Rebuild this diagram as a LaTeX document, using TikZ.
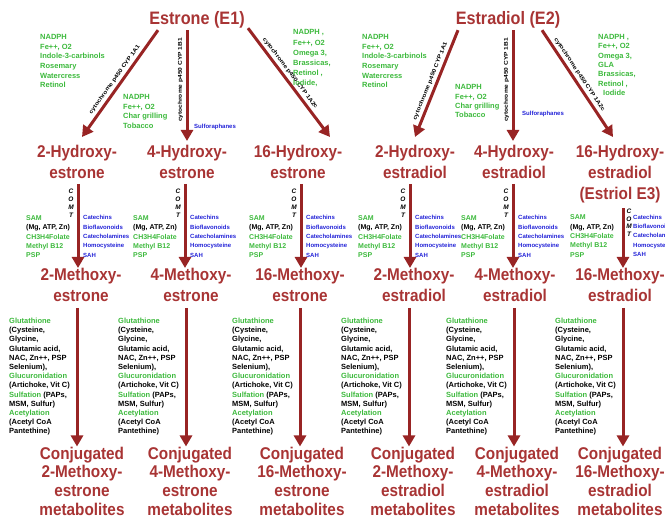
\documentclass[tikz,border=0pt]{standalone}
\usepackage{fontspec}
\setmainfont{Liberation Sans}
\newfontfamily\titlefont[FakeStretch=0.9]{Liberation Sans}
\newfontfamily\enzfont[FakeStretch=1.2]{Liberation Sans}
\usetikzlibrary{arrows.meta,calc}

\definecolor{hormonered}{RGB}{168,52,52}
\definecolor{flowred}{RGB}{152,36,36}
\definecolor{nutgreen}{RGB}{60,185,60}
\definecolor{blockblue}{RGB}{35,35,215}

\newcommand{\methylnote}{\textcolor{nutgreen}{SAM}\\(Mg, ATP, Zn)\\\textcolor{nutgreen}{CH3H4Folate}\\\textcolor{nutgreen}{Methyl B12}\\\textcolor{nutgreen}{PSP}}
\newcommand{\blocknote}{Catechins\\Bioflavonoids\\Catecholamines\\Homocysteine\\SAH}
\newcommand{\conjnote}{\textcolor{nutgreen}{Glutathione}\\(Cysteine,\\Glycine,\\Glutamic acid,\\NAC, Zn++, PSP\\Selenium),\\\textcolor{nutgreen}{Glucuronidation}\\(Artichoke, Vit C)\\\textcolor{nutgreen}{Sulfation} (PAPs,\\MSM, Sulfur)\\\textcolor{nutgreen}{Acetylation}\\(Acetyl CoA\\Pantethine)}

\tikzset{
	hormone/.style={text=hormonered, font=\titlefont\bfseries\fontsize{17}{21}\selectfont, align=center, inner sep=0pt, anchor=north},
	flow/.style={draw=flowred, line width=3pt, -{Triangle[width=12pt,length=11pt]}},
	enzyme/.style={font=\enzfont\bfseries\fontsize{5.5}{7}\selectfont, sloped, above, inner sep=2.5pt},
	upenzyme/.style={font=\enzfont\bfseries\fontsize{5.5}{7}\selectfont, rotate=90, anchor=south, inner sep=2.5pt},
	note/.style={font=\bfseries\fontsize{7.5}{9.6}\selectfont, align=left, anchor=north west, inner sep=0pt},
	greennote/.style={note, text=nutgreen},
	bluenote/.style={note, text=blockblue, font=\bfseries\fontsize{6}{9.3}\selectfont},
	methylnote/.style={note, font=\bfseries\fontsize{7}{9.3}\selectfont},
	conjnote/.style={note, font=\bfseries\fontsize{7.5}{9.2}\selectfont},
	comt/.style={font=\bfseries\itshape\fontsize{6.5}{8}\selectfont, align=center, anchor=north, inner sep=0pt}
}

\begin{document}
\begin{tikzpicture}[x=1pt,y=-1pt]
	\useasboundingbox (0,0) rectangle (665,518);
	% parent hormones
	\node [hormone, font=\titlefont\bfseries\fontsize{18}{21}\selectfont] (e1) at (197,11) {Estrone (E1)};
	\node [hormone, font=\titlefont\bfseries\fontsize{18}{21}\selectfont] (e2) at (508,11) {Estradiol (E2)};
	% hydroxy row
	\node [hormone] (h2e) at (77,145) {2-Hydroxy-\\estrone};
	\node [hormone] (h4e) at (187,145) {4-Hydroxy-\\estrone};
	\node [hormone] (h16e) at (298,145) {16-Hydroxy-\\estrone};
	\node [hormone] (h2d) at (415,145) {2-Hydroxy-\\estradiol};
	\node [hormone] (h4d) at (514,145) {4-Hydroxy-\\estradiol};
	\node [hormone] (h16d) at (620,145) {16-Hydroxy-\\estradiol\\(Estriol E3)};
	% methoxy row
	\node [hormone] (m2e) at (81,268) {2-Methoxy-\\estrone};
	\node [hormone] (m4e) at (191,268) {4-Methoxy-\\estrone};
	\node [hormone] (m16e) at (300,268) {16-Methoxy-\\estrone};
	\node [hormone] (m2d) at (414,268) {2-Methoxy-\\estradiol};
	\node [hormone] (m4d) at (515,268) {4-Methoxy-\\estradiol};
	\node [hormone] (m16d) at (620,268) {16-Methoxy-\\estradiol};
	% conjugated row
	\node [hormone, font=\titlefont\bfseries\fontsize{17}{18.8}\selectfont] (c2e) at (82,446.5) {Conjugated\\2-Methoxy-\\estrone\\metabolites};
	\node [hormone, font=\titlefont\bfseries\fontsize{17}{18.8}\selectfont] (c4e) at (190,446.5) {Conjugated\\4-Methoxy-\\estrone\\metabolites};
	\node [hormone, font=\titlefont\bfseries\fontsize{17}{18.8}\selectfont] (c16e) at (302,446.5) {Conjugated\\16-Methoxy-\\estrone\\metabolites};
	\node [hormone, font=\titlefont\bfseries\fontsize{17}{18.8}\selectfont] (c2d) at (413,446.5) {Conjugated\\2-Methoxy-\\estradiol\\metabolites};
	\node [hormone, font=\titlefont\bfseries\fontsize{17}{18.8}\selectfont] (c4d) at (517,446.5) {Conjugated\\4-Methoxy-\\estradiol\\metabolites};
	\node [hormone, font=\titlefont\bfseries\fontsize{17}{18.8}\selectfont] (c16d) at (620,446.5) {Conjugated\\16-Methoxy-\\estradiol\\metabolites};

	% cytochrome arrows
	\draw [flow] ($(e1.south)+(-39,2)$) -- node [enzyme] {cytochrome p450 CYP 1A1} ($(h2e.north)+(5,-8)$);
	\draw [flow] ($(e1.south)+(-10,2)$) -- node [upenzyme, pos=.45] {cytochrome p450 CYP 1B1} ($(h4e.north)+(0,-4)$);
	\draw [flow] ($(e1.south)+(51,0)$) -- node [enzyme, pos=.45] {cytochrome p450 CYP 1A2c} ($(h16e.north)+(32,-8)$);
	\draw [flow] ($(e2.south)+(-50,2)$) -- node [enzyme] {cytochrome p450 CYP 1A1} ($(h2d.north)+(0,-8)$);
	\draw [flow] ($(e2.south)+(5,2)$) -- node [upenzyme, pos=.45] {cytochrome p450 CYP 1B1} ($(h4d.north)+(-1,-4)$);
	\draw [flow] ($(e2.south)+(34,2)$) -- node [enzyme, pos=.45] {cytochrome p450 CYP 1A2c} ($(h16d.north)+(-7,-8)$);

	% cofactors of the hydroxylation
	\node [greennote] (a1e) at (40,34.3) {NADPH\\Fe++, O2\\Indole-3-carbinols\\Rosemary\\Watercress\\Retinol};
	\node [greennote] (b1e) at (123,94.3) {NADPH\\Fe++, O2\\Char grilling\\Tobacco};
	\node [bluenote] (sfe) at (194,123.5) {Sulforaphanes};
	\node [greennote, font=\bfseries\fontsize{7.5}{10.2}\selectfont] (a2e) at (293,29.5) {NADPH ,\\Fe++, O2\\Omega 3,\\Brassicas,\\Retinol ,\\Iodide,};
	\node [greennote] (a1d) at (362,34.3) {NADPH\\Fe++, O2\\Indole-3-carbinols\\Rosemary\\Watercress\\Retinol};
	\node [greennote, font=\bfseries\fontsize{7.5}{9.4}\selectfont] (b1d) at (455,84.3) {NADPH\\Fe++, O2\\Char grilling\\Tobacco};
	\node [bluenote] (sfd) at (522,110.5) {Sulforaphanes};
	\node [greennote, font=\bfseries\fontsize{7.5}{9.3}\selectfont] (a2d) at (598,34.3) {NADPH ,\\Fe++, O2\\Omega 3,\\GLA\\Brassicas,\\Retinol ,\\\hspace*{5pt}Iodide};

	% methylation by COMT
	\foreach \col/\d in {2e/1, 4e/-2, 16e/3, 2d/-5, 4d/-1} {
		\coordinate (t\col) at ($(h\col.south)+(\d,5)$);
		\draw [flow] (t\col) -- (t\col |- m\col.north);
		\node [comt] (comt\col) at ($(t\col)+(-7,5)$) {C\\O\\M\\T};
		\node [methylnote] (sam\col) at ($(t\col)+(-52,31.5)$) {\methylnote};
		\node [bluenote] (cat\col) at ($(t\col)+(5,31.5)$) {\blocknote};
	}
	\coordinate (t16d) at ($(h16d.south)+(3,5)$);
	\draw [flow] (t16d) -- (t16d |- m16d.north);
	\node [comt, font=\bfseries\itshape\fontsize{6.5}{7.5}\selectfont] (comt16d) at ($(t16d)+(6,1)$) {C\\O\\M\\T};
	\node [methylnote] (sam16d) at ($(t16d)+(-53,6.5)$) {\methylnote};
	\node [bluenote] (cat16d) at ($(t16d)+(10,6.5)$) {\blocknote};

	% conjugation
	\foreach \col/\d in {2e/-4, 4e/-5, 16e/0, 2d/-5, 4d/-1, 16d/3} {
		\coordinate (b\col) at ($(m\col.south)+(\d,6)$);
		\draw [flow] (b\col) -- (b\col |- c\col.north);
		\node [conjnote] (conj\col) at ($(b\col)+(-68,10)$) {\conjnote};
	}
\end{tikzpicture}
\end{document}
